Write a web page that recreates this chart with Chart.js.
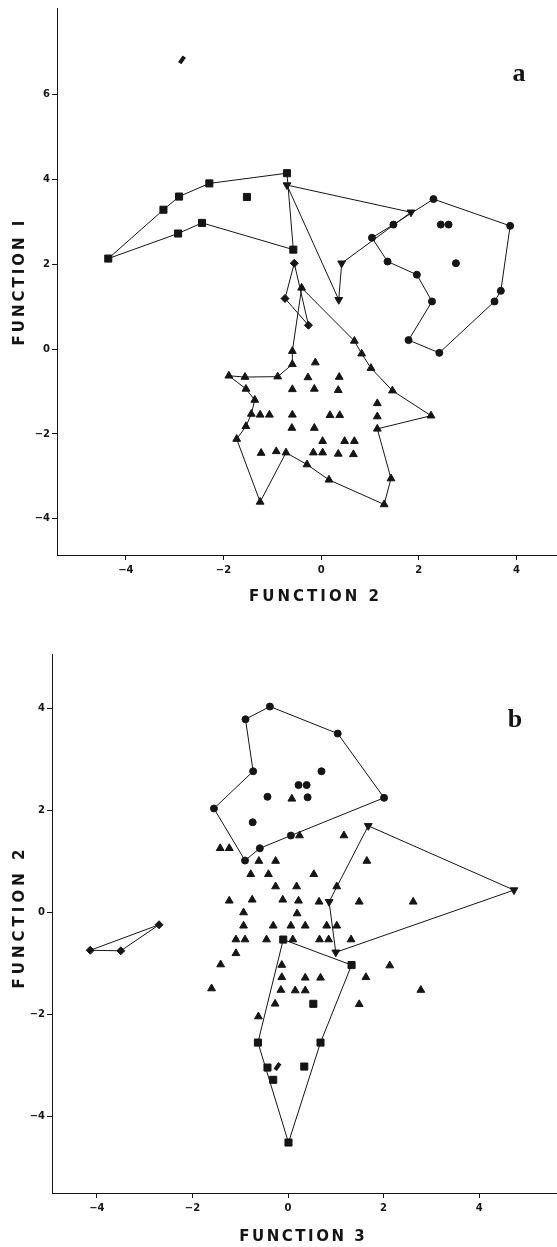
<!DOCTYPE html>
<html>
<head>
<meta charset="utf-8">
<script src="https://cdn.jsdelivr.net/npm/chart.js@4"></script>
<style>
  body { margin: 0; background: #fff; }
  canvas { position: absolute; left: 0; }
  #chartA { top: 0; }
  #chartB { top: 620px; }
</style>
</head>
<body>
<canvas id="chartA" width="557" height="620"></canvas>
<canvas id="chartB" width="557" height="627"></canvas>
<script>
// ---- panel a: Function 2 (x) vs Function I (y) ----
var aXTicks = [-4, -2, 0, 2, 4];
var aYTicks = [-4, -2, 0, 2, 4, 6];

var aSquares = [[-0.70, 4.14], [-2.29, 3.90], [-2.91, 3.59], [-3.23, 3.28], [-4.36, 2.13],
  [-2.93, 2.72], [-2.44, 2.97], [-0.57, 2.34], [-1.52, 3.58]];
var aSquareHull = [0, 1, 2, 3, 4, 5, 6, 7, 0];

var aDown = [[-0.70, 3.86], [1.84, 3.22], [0.42, 2.02], [0.36, 1.16]];
var aDownHull = [0, 1, 2, 3, 0];

var aCircles = [[2.30, 3.53], [3.87, 2.90], [3.68, 1.37], [3.55, 1.12], [2.42, -0.09],
  [1.79, 0.21], [2.27, 1.12], [1.96, 1.75], [1.36, 2.06], [1.04, 2.62], [1.48, 2.93],
  [2.45, 2.93], [2.61, 2.93], [2.76, 2.02]];
var aCircleHull = [0, 1, 2, 3, 4, 5, 6, 7, 8, 9, 10, 0];

var aDiamonds = [[-0.55, 2.02], [-0.74, 1.19], [-0.26, 0.56]];
var aDiamondHull = [0, 1, 2, 0];

var aTriangles = [[-0.40, 1.44], [0.68, 0.19], [0.83, -0.11], [1.02, -0.45], [1.46, -0.98],
  [2.25, -1.57], [1.15, -1.88], [1.43, -3.05], [1.29, -3.66], [0.16, -3.08], [-0.29, -2.72],
  [-0.72, -2.44], [-1.25, -3.60], [-1.73, -2.12], [-1.54, -1.82], [-1.43, -1.53], [-1.36, -1.20],
  [-1.54, -0.94], [-1.89, -0.63], [-1.56, -0.66], [-0.89, -0.65], [-0.59, -0.36], [-0.59, -0.05],
  [-0.92, -2.41], [-0.12, -0.32], [-0.27, -0.67], [0.37, -0.66], [-0.59, -0.95], [-0.14, -0.94],
  [0.35, -0.97], [1.15, -1.28], [-1.25, -1.55], [-1.06, -1.55], [-0.59, -1.55], [0.18, -1.56],
  [0.38, -1.56], [1.15, -1.59], [-0.60, -1.86], [-0.14, -1.86], [0.03, -2.17], [0.48, -2.17],
  [0.68, -2.17], [-1.23, -2.45], [-0.16, -2.44], [0.03, -2.44], [0.35, -2.47], [0.66, -2.48]];
var aTriangleHull = [0, 1, 2, 3, 4, 5, 6, 7, 8, 9, 10, 11, 12, 13, 14, 15, 16, 17, 18, 19, 20, 21, 22, 0];

var aOdd = [[-2.85, 6.81]];

// ---- panel b: Function 3 (x) vs Function 2 (y) ----
var bXTicks = [-4, -2, 0, 2, 4];
var bYTicks = [-4, -2, 0, 2, 4];

var bCircles = [[-0.38, 4.03], [1.04, 3.50], [2.01, 2.24], [0.06, 1.50], [-0.59, 1.25],
  [-0.90, 1.01], [-1.55, 2.03], [-0.73, 2.76], [-0.89, 3.78], [0.70, 2.76], [0.22, 2.49],
  [0.39, 2.49], [-0.43, 2.26], [0.41, 2.25], [-0.74, 1.76]];
var bCircleHull = [0, 1, 2, 3, 4, 5, 6, 7, 8, 0];

var bDown = [[1.68, 1.69], [4.73, 0.43], [1.00, -0.79], [0.86, 0.20]];
var bDownHull = [0, 1, 2, 3, 0];

var bSquares = [[-0.10, -0.54], [1.33, -1.04], [0.68, -2.56], [0.01, -4.52], [-0.63, -2.56],
  [0.53, -1.80], [-0.43, -3.05], [0.34, -3.03], [-0.31, -3.29]];
var bSquareHull = [0, 1, 2, 3, 4, 0];

var bDiamonds = [[-4.14, -0.75], [-3.50, -0.76], [-2.70, -0.25]];
var bDiamondHull = [0, 1, 2, 0];

var bTriangles = [[0.08, 2.22], [0.24, 1.50], [1.17, 1.50], [-1.42, 1.25], [-1.23, 1.25],
  [-0.61, 1.00], [-0.26, 1.00], [1.65, 1.00], [-0.78, 0.74], [-0.41, 0.74], [0.54, 0.74],
  [-0.26, 0.50], [0.18, 0.50], [1.02, 0.50], [-1.23, 0.22], [-0.75, 0.24], [-0.11, 0.24],
  [0.22, 0.22], [0.65, 0.20], [1.49, 0.20], [2.62, 0.20], [-0.93, -0.01], [0.19, -0.03],
  [-0.93, -0.27], [-0.31, -0.27], [0.06, -0.27], [0.36, -0.27], [0.81, -0.27], [1.02, -0.27],
  [-1.09, -0.54], [-0.90, -0.54], [-0.45, -0.54], [0.10, -0.54], [0.66, -0.54], [0.85, -0.54],
  [1.32, -0.54], [-1.09, -0.81], [-1.41, -1.03], [-0.13, -1.04], [2.13, -1.05], [-0.13, -1.28],
  [0.36, -1.29], [0.68, -1.29], [1.63, -1.28], [-1.60, -1.50], [-0.15, -1.53], [0.15, -1.54],
  [0.36, -1.54], [2.78, -1.53], [-0.27, -1.80], [1.49, -1.81], [-0.62, -2.05]];

var bOdd = [[-0.22, -3.03]];

var ink = '#151515';

function pts(arr) {
  return arr.map(function (p) { return { x: p[0], y: p[1] }; });
}
function hull(arr, idx) {
  return idx.map(function (i) { return { x: arr[i][0], y: arr[i][1] }; });
}
function marks(arr, style, radius, rotation) {
  return {
    data: pts(arr), pointStyle: style, pointRadius: radius, pointRotation: rotation || 0,
    pointBackgroundColor: ink, pointBorderColor: ink, pointBorderWidth: 1, showLine: false
  };
}
function outline(arr, idx) {
  return {
    data: hull(arr, idx), showLine: true, pointRadius: 0, borderColor: ink,
    borderWidth: 1, tension: 0, fill: false
  };
}

// letters and axis titles drawn at fixed spots
var panelText = {
  id: 'panelText',
  afterDraw: function (chart, args, o) {
    var ctx = chart.ctx;
    ctx.save();
    ctx.fillStyle = ink;
    ctx.textAlign = 'center';
    ctx.textBaseline = 'middle';
    ctx.font = o.letterFont;
    ctx.fillText(o.letter, o.letterX, o.letterY);
    ctx.font = 'bold 15px "DejaVu Sans"';
    ctx.letterSpacing = o.xSpace + 'px';
    ctx.fillText(o.xTitle, o.xTitleX + o.xSpace / 2, o.xTitleY);
    ctx.letterSpacing = o.ySpace + 'px';
    ctx.translate(o.yTitleX, o.yTitleY);
    ctx.rotate(-Math.PI / 2);
    ctx.fillText(o.yTitle, o.ySpace / 2, 0);
    ctx.restore();
  }
};

function axis(min, max, ticks, fitSize, isX) {
  return {
    type: 'linear',
    min: min,
    max: max,
    afterBuildTicks: function (scale) {
      scale.ticks = ticks.map(function (v) { return { value: v }; });
    },
    afterFit: function (scale) {
      if (isX) scale.height = fitSize; else scale.width = fitSize;
    },
    grid: { drawOnChartArea: false, drawTicks: true, tickLength: 5, color: ink, lineWidth: 1 },
    border: { display: true, color: ink, width: 1 },
    ticks: {
      color: ink,
      padding: isX ? 4 : 2,
      font: { family: 'DejaVu Sans', size: 10, weight: 'bold' },
      callback: function (v) { return v < 0 ? '\u2212' + Math.abs(v) : String(v); }
    }
  };
}

function makeChart(id, datasets, xs, ys, pad, text) {
  return new Chart(document.getElementById(id), {
    type: 'scatter',
    data: { datasets: datasets },
    options: {
      responsive: false,
      animation: false,
      layout: { padding: pad, autoPadding: false },
      plugins: { legend: { display: false }, tooltip: { enabled: false }, panelText: text },
      scales: { x: xs, y: ys }
    },
    plugins: [panelText]
  });
}

makeChart('chartA', [
  outline(aSquares, aSquareHull),
  outline(aDown, aDownHull),
  outline(aCircles, aCircleHull),
  outline(aDiamonds, aDiamondHull),
  outline(aTriangles, aTriangleHull),
  marks(aSquares, 'rect', 5),
  marks(aDown, 'triangle', 4.5, 180),
  marks(aCircles, 'circle', 3.5),
  marks(aDiamonds, 'rectRot', 4),
  marks(aTriangles, 'triangle', 4.5),
  { data: pts(aOdd), pointStyle: 'line', pointRadius: 4, pointRotation: -55,
    pointBorderColor: ink, pointBorderWidth: 4, showLine: false }
], axis(-5.41, 4.83, aXTicks, 65, true), axis(-4.85, 8.03, aYTicks, 57, false),
  { top: 5, left: 0, right: 0, bottom: 0 },
  { letter: 'a', letterFont: 'bold 26px "Liberation Serif"', letterX: 519, letterY: 74,
    xTitle: 'FUNCTION 2', xTitleX: 314, xTitleY: 597, xSpace: 3,
    yTitle: 'FUNCTION I', yTitleX: 20, yTitleY: 283, ySpace: 3 });

makeChart('chartB', [
  outline(bCircles, bCircleHull),
  outline(bDown, bDownHull),
  outline(bSquares, bSquareHull),
  outline(bDiamonds, bDiamondHull),
  marks(bCircles, 'circle', 3.5),
  marks(bDown, 'triangle', 4.5, 180),
  marks(bSquares, 'rect', 5),
  marks(bDiamonds, 'rectRot', 4),
  marks(bTriangles, 'triangle', 4.5),
  { data: pts(bOdd), pointStyle: 'line', pointRadius: 4, pointRotation: -55,
    pointBorderColor: ink, pointBorderWidth: 4, showLine: false }
], axis(-4.94, 5.63, bXTicks, 54, true), axis(-5.51, 5.06, bYTicks, 52, false),
  { top: 34, left: 0, right: 0, bottom: 0 },
  { letter: 'b', letterFont: 'bold 26px "Liberation Serif"', letterX: 515, letterY: 100,
    xTitle: 'FUNCTION 3', xTitleX: 302, xTitleY: 617, xSpace: 2.5,
    yTitle: 'FUNCTION 2', yTitleX: 20, yTitleY: 299, ySpace: 4 });
</script>
</body>
</html>
